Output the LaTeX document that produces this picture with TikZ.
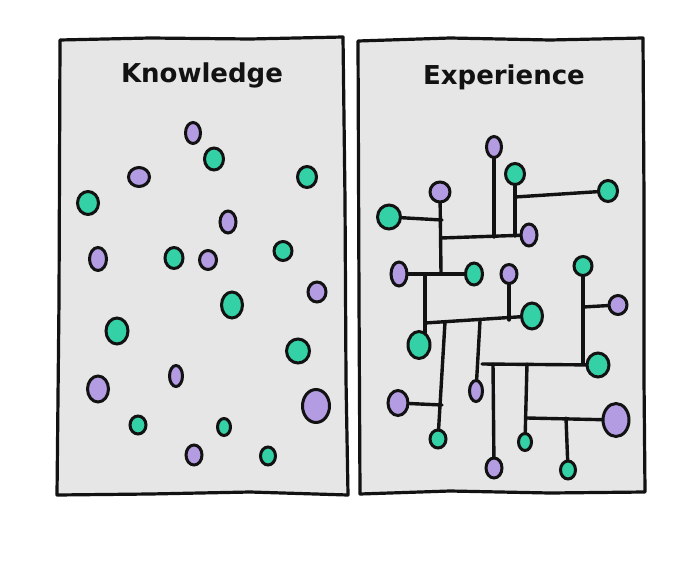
\documentclass[tikz,border=0pt]{standalone}
\usepackage{fontspec}
\setmainfont{DejaVu Sans}
\usetikzlibrary{shapes.geometric}
\pgfdeclarelayer{panel}
\pgfdeclarelayer{wires}
\pgfsetlayers{panel,wires,main}
\definecolor{dotpurple}{HTML}{B39CE2}
\definecolor{dotgreen}{HTML}{34D0A6}
\definecolor{panelgray}{HTML}{E6E6E6}
\definecolor{ink}{HTML}{121212}
\begin{document}
\begin{tikzpicture}[x=1pt,y=-1pt,
  pdot/.style={ellipse,draw=ink,line width=3pt,fill=dotpurple,inner sep=0pt},
  gdot/.style={ellipse,draw=ink,line width=3pt,fill=dotgreen,inner sep=0pt},
  sz/.style 2 args={minimum width=#1pt,minimum height=#2pt},
  wire/.style={draw=ink,line width=3.4pt,line cap=round},
  panelbox/.style={draw=ink,line width=3.2pt,fill=panelgray,line join=round},
  title/.style={font=\fontsize{26}{31}\selectfont\bfseries,text=ink}]
\useasboundingbox (0,0) rectangle (700,572);
\begin{pgfonlayer}{panel}
\fill[white] (0,0) rectangle (700,572);
\draw[panelbox] (60,40) -- (150,38) -- (250,39) -- (343,37) -- (345,200) -- (346,380) -- (348,495) -- (250,492) -- (150,494) -- (57,495) -- (59,300) -- cycle;
\draw[panelbox] (358,41) -- (450,38) -- (550,40) -- (643,38) -- (644,200) -- (644,380) -- (645,492) -- (550,493) -- (450,491) -- (360,494) -- (359,300) -- cycle;
\end{pgfonlayer}
\node[title] (tK) at (202,75) {Knowledge};
\node[title] (tE) at (504,77) {Experience};
% Knowledge dots
\node[pdot,sz={15}{21}] (K1) at (193,133) {};
\node[gdot,sz={19}{22}] (K2) at (214,159) {};
\node[pdot,sz={21}{19}] (K3) at (139,177) {};
\node[gdot,sz={19}{21}] (K4) at (307,177) {};
\node[gdot,sz={21}{23}] (K5) at (88,203) {};
\node[pdot,sz={16}{22}] (K6) at (228,222) {};
\node[pdot,sz={17}{23}] (K7) at (98,259) {};
\node[gdot,sz={18}{21}] (K8) at (174,258) {};
\node[pdot,sz={17}{19}] (K9) at (208,260) {};
\node[gdot,sz={18}{19}] (K10) at (283,251) {};
\node[pdot,sz={18}{20}] (K11) at (317,292) {};
\node[gdot,sz={21}{26}] (K12) at (232,305) {};
\node[gdot,sz={22}{26}] (K13) at (117,331) {};
\node[gdot,sz={23}{24}] (K14) at (298,351) {};
\node[pdot,sz={13}{21}] (K15) at (176,376) {};
\node[pdot,sz={21}{26}] (K16) at (98,389) {};
\node[pdot,sz={27}{33}] (K17) at (316,406) {};
\node[gdot,sz={16}{18}] (K18) at (138,425) {};
\node[gdot,sz={13}{17}] (K19) at (224,427) {};
\node[pdot,sz={16}{20}] (K20) at (194,455) {};
\node[gdot,sz={15}{18}] (K21) at (268,456) {};
% Experience dots
\node[pdot,sz={15}{21}] (E1) at (494,147) {};
\node[gdot,sz={19}{21}] (E2) at (515,174) {};
\node[gdot,sz={19}{21}] (E3) at (608,191) {};
\node[pdot,sz={20}{20}] (E4) at (440,192) {};
\node[gdot,sz={23}{24}] (E5) at (389,217) {};
\node[pdot,sz={16}{22}] (E6) at (529,235) {};
\node[pdot,sz={16}{24}] (E7) at (399,274) {};
\node[gdot,sz={17}{22}] (E8) at (474,274) {};
\node[pdot,sz={16}{19}] (E9) at (509,274) {};
\node[gdot,sz={18}{19}] (E10) at (583,266) {};
\node[pdot,sz={18}{19}] (E11) at (618,305) {};
\node[gdot,sz={21}{26}] (E12) at (532,316) {};
\node[gdot,sz={22}{27}] (E13) at (419,345) {};
\node[gdot,sz={22}{24}] (E14) at (598,365) {};
\node[pdot,sz={13}{21}] (E15) at (476,391) {};
\node[pdot,sz={20}{25}] (E16) at (398,403) {};
\node[pdot,sz={26}{33}] (E17) at (616,420) {};
\node[gdot,sz={16}{18}] (E18) at (438,439) {};
\node[gdot,sz={13}{17}] (E19) at (525,442) {};
\node[pdot,sz={16}{20}] (E20) at (494,468) {};
\node[gdot,sz={15}{18}] (E21) at (568,470) {};
% junctions
\coordinate (j1a) at (441,238);
\coordinate (j1b) at (494,237);
\coordinate (j1c) at (515,236);
\coordinate (j2) at (515,197);
\coordinate (j3) at (441,273);
\coordinate (j4) at (442,220);
\coordinate (j5) at (425,274);
\coordinate (j5b) at (425,338);
\coordinate (j6) at (509,320);
\coordinate (j7) at (425,323);
\coordinate (j8) at (445,322);
\coordinate (j10) at (442,405);
\coordinate (j11) at (480,321);
\coordinate (j12) at (583,364);
\coordinate (j13) at (583,307);
\coordinate (j14) at (482,364);
\coordinate (j15) at (493,364);
\coordinate (j16) at (527,364);
\coordinate (j17) at (527,418);
\coordinate (j18) at (566,418);
\begin{pgfonlayer}{wires}
\draw[wire] (E1.center) -- (j1b);
\draw[wire] (E2.center) -- (j1c);
\draw[wire] (j2) -- (E3.center);
\draw[wire] (E4.center) -- (j3);
\draw[wire] (E5.center) -- (j4);
\draw[wire] (j1a) -- (E6.center);
\draw[wire] (E7.center) -- (E8.center);
\draw[wire] (j5) -- (j5b);
\draw[wire] (E9.center) -- (j6);
\draw[wire] (j7) -- (E12.center);
\draw[wire] (j8) -- (E18.center);
\draw[wire] (E16.center) -- (j10);
\draw[wire] (j11) -- (E15.center);
\draw[wire] (E10.center) -- (j12);
\draw[wire] (j13) -- (E11.center);
\draw[wire] (j14) -- (E14.center);
\draw[wire] (j15) -- (E20.center);
\draw[wire] (j16) -- (E19.center);
\draw[wire] (j17) -- (E17.center);
\draw[wire] (j18) -- (E21.center);
\end{pgfonlayer}
\end{tikzpicture}
\end{document}
